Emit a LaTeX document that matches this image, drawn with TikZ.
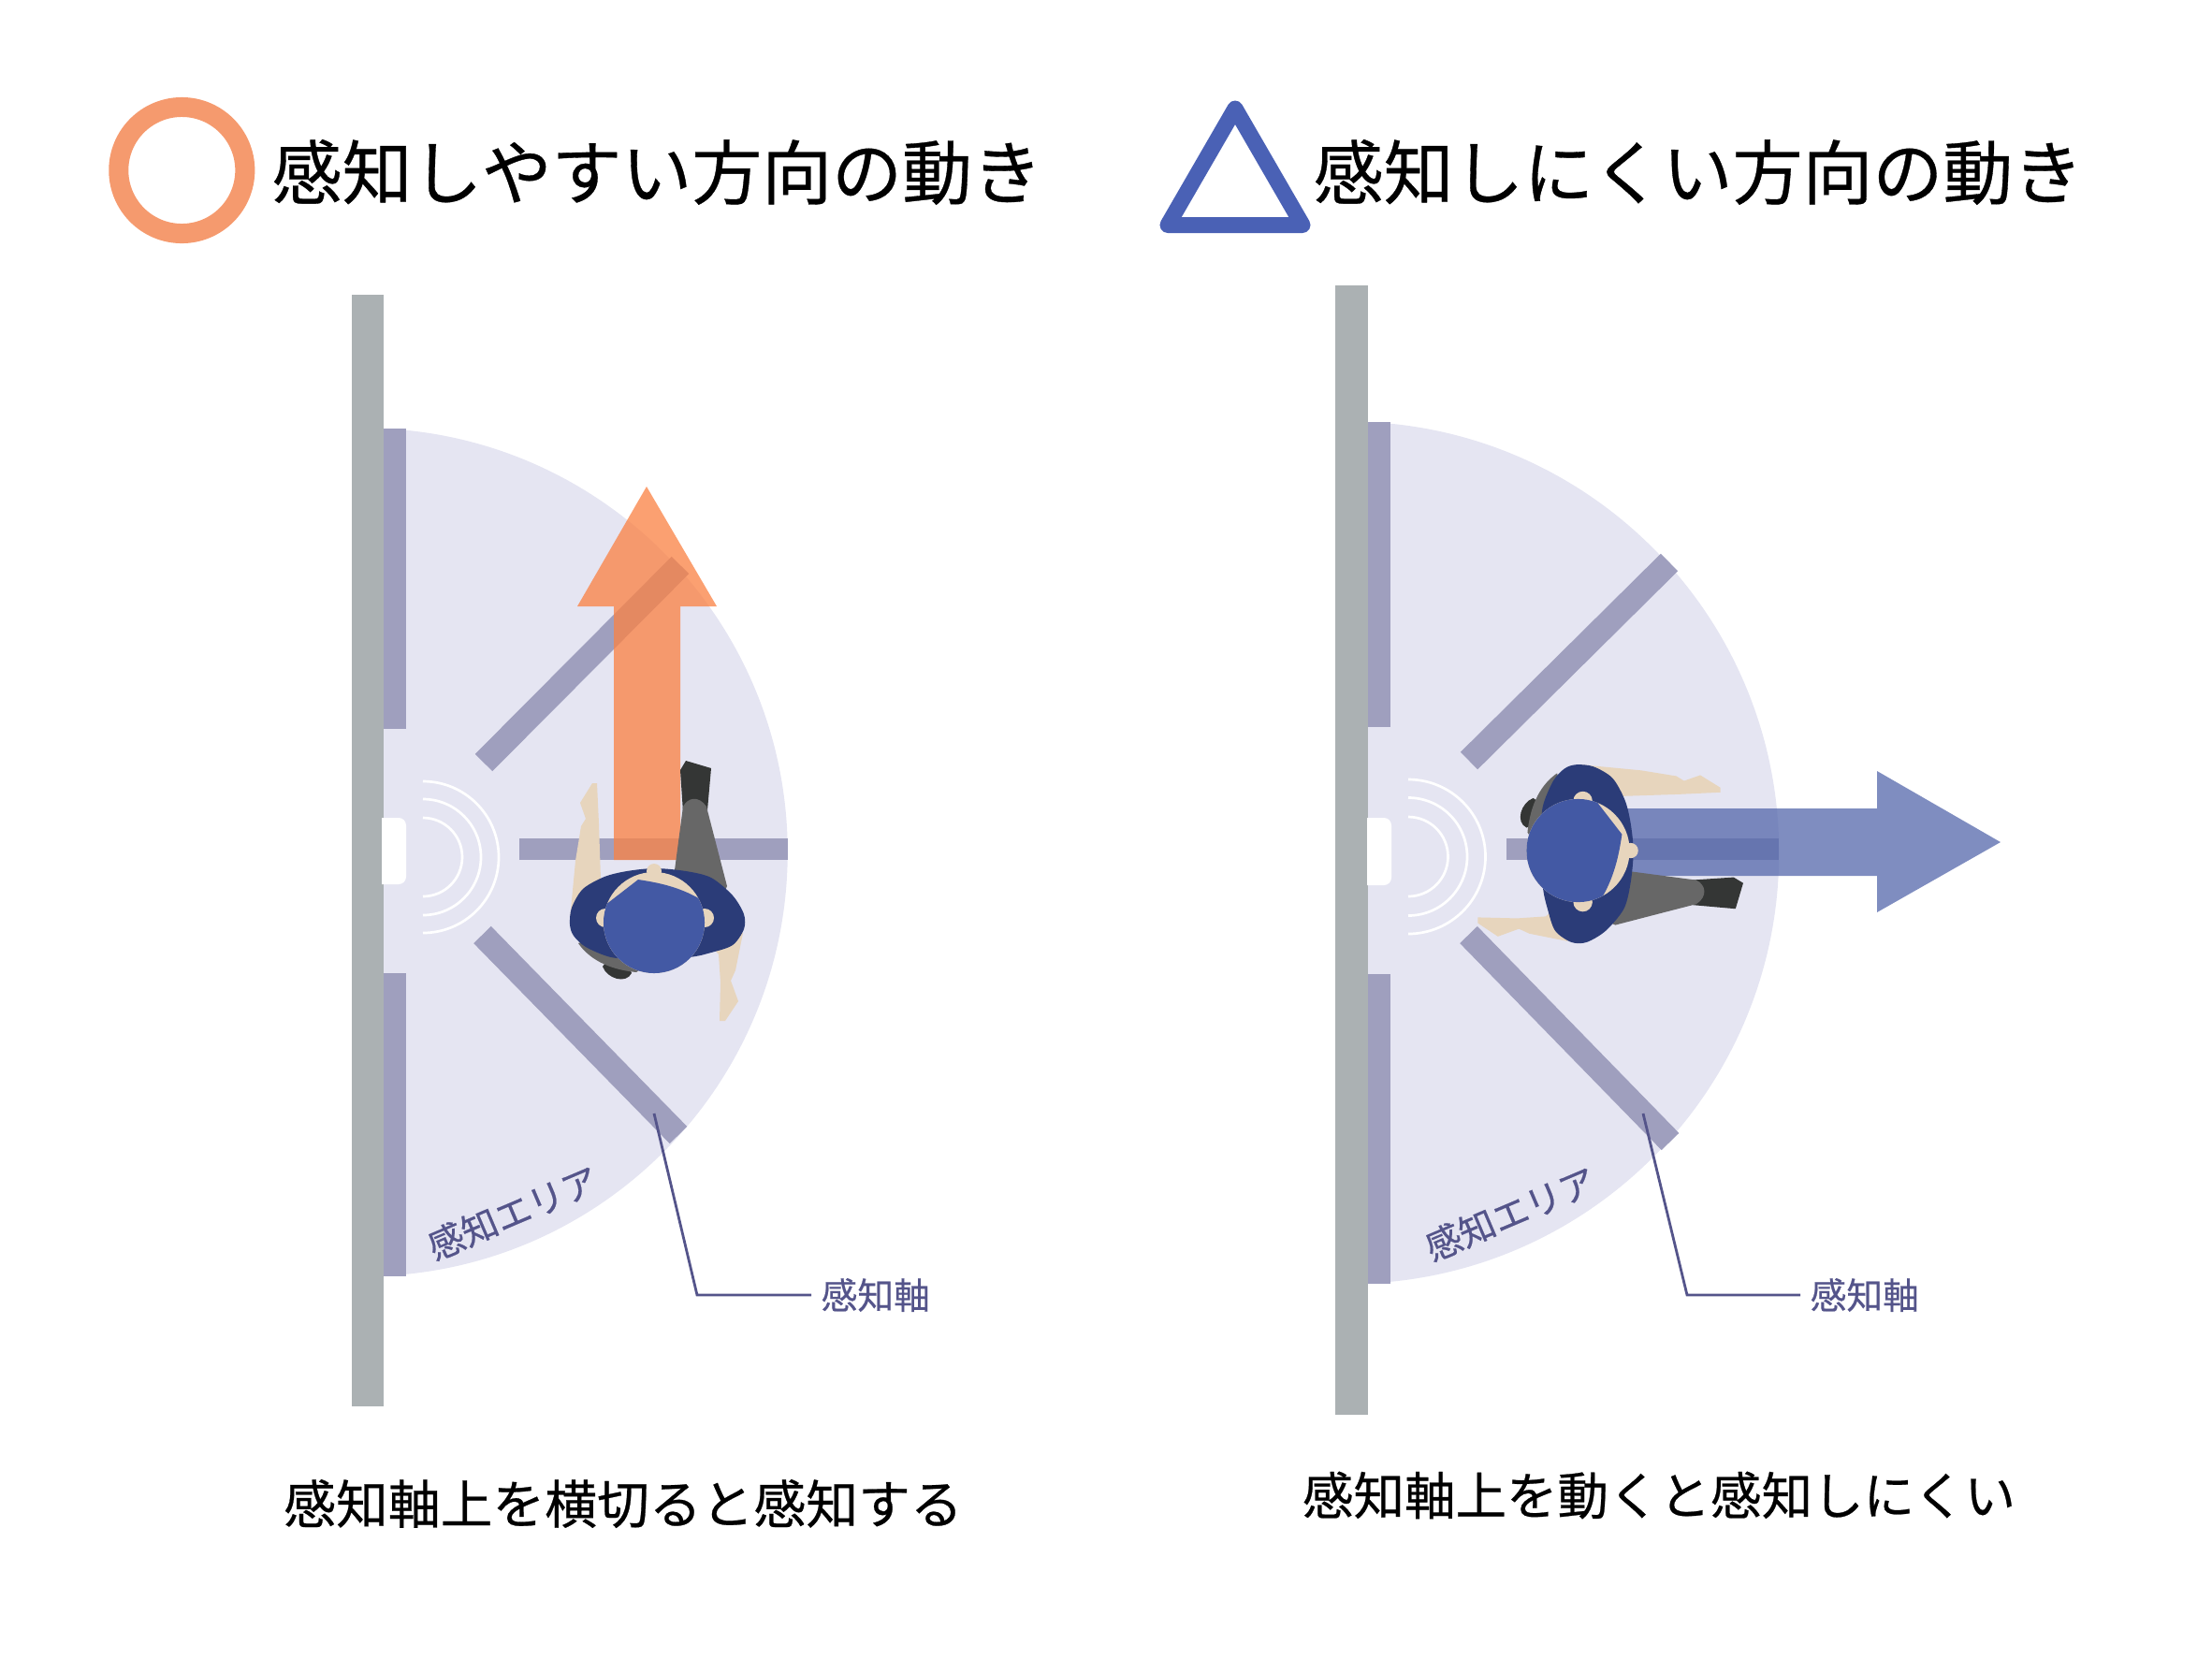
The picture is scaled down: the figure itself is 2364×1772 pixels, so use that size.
\documentclass[tikz,border=0pt]{standalone}
\usepackage{fontspec}
\usepackage{xcolor}
\newfontfamily\jpfont[FakeBold=0.45]{Noto Sans CJK JP}
\definecolor{areacol}{HTML}{E5E5F2}
\definecolor{stripcol}{HTML}{9F9FBE}
\definecolor{wallcol}{HTML}{ABB1B3}
\definecolor{inkcol}{HTML}{54548A}
\definecolor{orangecol}{HTML}{FA8346}
\definecolor{ringcol}{HTML}{F59A6E}
\definecolor{bluecol}{HTML}{5467AB}
\definecolor{triacol}{HTML}{4A61B5}
\definecolor{skincol}{HTML}{E7D5BD}
\definecolor{haircol}{HTML}{4359A4}
\definecolor{coatcol}{HTML}{2B3C78}
\definecolor{legcol}{HTML}{676767}
\definecolor{shoecol}{HTML}{343635}
\tikzset{
  strip/.style={stripcol,line width=0.26cm},
  barstrip/.style={stripcol,line width=0.23cm},
  wave/.style={white,line width=0.027cm},
  leader/.style={inkcol,line width=0.028cm},
  titletext/.style={anchor=west,inner sep=0pt,font=\jpfont\fontsize{21.3}{26}\selectfont},
  captext/.style={inner sep=0pt,font=\jpfont\fontsize{15.87}{20}\selectfont},
  smalltext/.style={inner sep=0pt,text=inkcol,font=\jpfont\fontsize{11}{14}\selectfont},
}
\newcommand{\walker}{
  \fill[skincol] (-90,-3) -- (-84,-66) -- (-78,-103) -- (-73,-111) -- (-79,-128) -- (-66,-149) -- (-61,-149) -- (-59,-106) -- (-57,-46) -- (-40,0) -- cycle;
  \fill[skincol] (95,11) -- (87,51) -- (82,62) -- (90,84) -- (76,105) -- (70,105) -- (71,64) -- (69,34) -- (40,0) -- cycle;
  \fill[shoecol] (28,-163) -- (34,-173) -- (61,-165) -- (57,-120) -- (31,-118) -- cycle;
  \fill[legcol] (78,-39) -- (64,-93) -- (56,-124) .. controls (48,-136) and (36,-134) .. (31,-124) -- (22,-56) -- (22,-20) -- (70,-20) -- cycle;
  \fill[shoecol] (-55,47) .. controls (-50,60) and (-30,66) .. (-24,54) -- (-30,40) -- (-50,40) -- cycle;
  \fill[legcol] (-81,22) .. controls (-70,38) and (-50,50) .. (-19,53) -- (0,40) -- (-40,10) -- cycle;
  \fill[coatcol] plot[smooth cycle] coordinates {(-90,2) (-88,-16) (-76,-36) (-53,-49) (-29,-55) (1,-58) (34,-55) (61,-48) (84,-29) (96,-9) (96,7) (84,24) (61,32) (37,37) (-13,39) (-46,37) (-73,26) (-86,14)};
  \fill[skincol] (-52,-5) circle (0.1cm);
  \fill[skincol] (54,-5) circle (0.1cm);
  \fill[skincol] (0,-55) circle (0.08cm);
  \fill[skincol] (0,0) circle (0.54cm);
  \begin{scope}
    \clip (-70,-5) -- (-17,-46) .. controls (10,-42) and (35,-36) .. (60,-18) -- (70,70) -- (-70,70) -- cycle;
    \fill[haircol] (0,0) circle (0.54cm);
  \end{scope}
}
\begin{document}
\begin{tikzpicture}[x=0.01cm,y=-0.01cm]
  \useasboundingbox (0,0) rectangle (2364,1772);

  \draw[line width=0.21cm,ringcol] (194.3,182) circle (0.675cm);
  \draw[line width=0.17cm,line join=round,triacol] (1320,116) -- (1392,240.5) -- (1248,240.5) -- cycle;
  \node[titletext] (titleeasy) at (290,184) {感知しやすい方向の動き};
  \node[titletext] (titlehard) at (1403,184) {感知しにくい方向の動き};

  \fill[areacol] (388.5,457.5) arc[start angle=90,end angle=-90,radius=4.53cm] -- cycle;
  \draw[strip] (517,815) -- (727,604);
  \draw[strip] (515.5,999) -- (725,1213);
  \draw[barstrip] (555,907) -- (842,907);
  \fill[stripcol] (409,457.5) rectangle (434,779);
  \fill[stripcol] (409,1040) rectangle (434,1363.5);
  \fill[wallcol] (376,315) rectangle (410,1503);
  \fill[white] (408,874) [rounded corners=0.08cm] -- (434,874) -- (434,945) [sharp corners] -- (408,945) -- cycle;
  \foreach \r in {42,62,81}
    \draw[wave] (452,916-\r) arc[start angle=90,end angle=-90,radius=\r*0.01cm];

  \fill[orangecol,fill opacity=0.77] (656,919) -- (656,648) -- (617,648) -- (691,520) -- (766,648) -- (727,648) -- (727,919) -- cycle;
  \begin{scope}[shift={(699,986)}]
    \walker
  \end{scope}

  \node[smalltext,rotate=23] (areaA) at (548,1296) {感知エリア};
  \coordinate (axisA) at (699,1190);
  \coordinate (kneeA) at (745,1384);
  \node[smalltext,anchor=west,inner xsep=0.1cm] (axislabelA) at (867,1384) {感知軸};
  \draw[leader] (axisA) -- (kneeA) -- (axislabelA.west);
  \node[captext] (capeasy) at (666,1607) {感知軸上を横切ると感知する};

  \fill[areacol] (1440.5,450.5) arc[start angle=90,end angle=-90,radius=4.605cm] -- cycle;
  \draw[strip] (1570,813) -- (1784,601);
  \draw[strip] (1569.5,999) -- (1785,1220);
  \draw[barstrip] (1610,907.5) -- (1901,907.5);
  \fill[stripcol] (1461,450.5) rectangle (1486,777);
  \fill[stripcol] (1461,1041) rectangle (1486,1371.5);
  \fill[wallcol] (1427,304.5) rectangle (1462,1512);
  \fill[white] (1461,874) [rounded corners=0.08cm] -- (1487,874) -- (1487,946) [sharp corners] -- (1461,946) -- cycle;
  \foreach \r in {42.5,63,82.5}
    \draw[wave] (1505,915.5-\r) arc[start angle=90,end angle=-90,radius=\r*0.01cm];

  \fill[bluecol,fill opacity=0.75] (1720,864) -- (2006,864) -- (2006,824) -- (2138,900) -- (2006,975) -- (2006,936) -- (1720,936) -- cycle;
  \begin{scope}[shift={(1686.5,909)},rotate=-90,scale=1.02]
    \walker
  \end{scope}

  \node[smalltext,rotate=23] (areaB) at (1614,1297) {感知エリア};
  \coordinate (axisB) at (1756,1190);
  \coordinate (kneeB) at (1803,1384);
  \node[smalltext,anchor=west,inner xsep=0.1cm] (axislabelB) at (1924,1384) {感知軸};
  \draw[leader] (axisB) -- (kneeB) -- (axislabelB.west);
  \node[captext,font=\jpfont\fontsize{15.5}{20}\selectfont] (caphard) at (1773,1598) {感知軸上を動くと感知しにくい};
\end{tikzpicture}
\end{document}
